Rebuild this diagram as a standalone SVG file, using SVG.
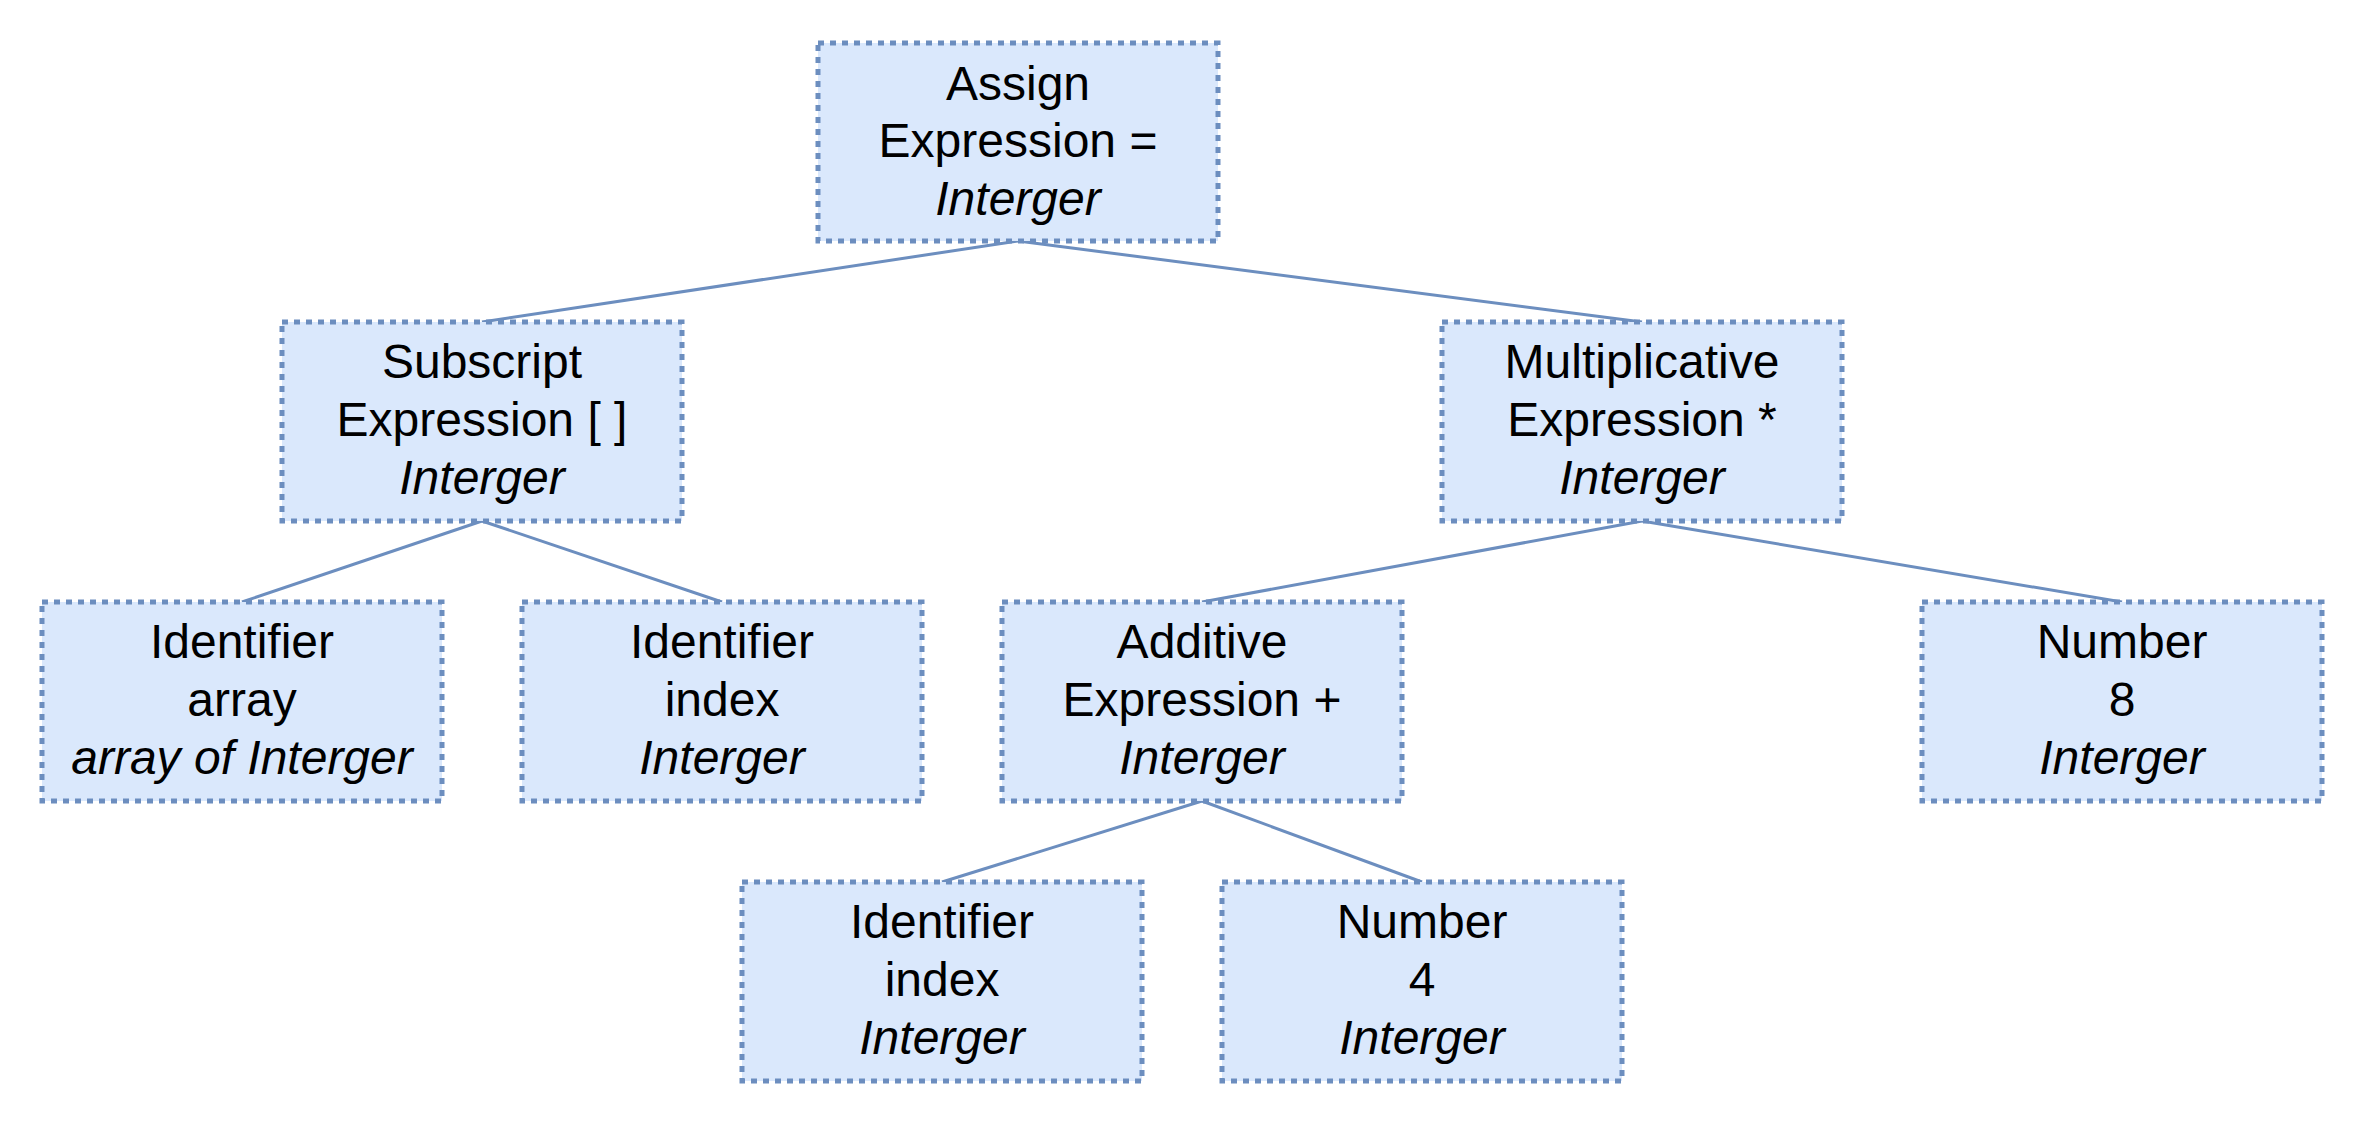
<svg xmlns="http://www.w3.org/2000/svg" width="2368" height="1128" viewBox="0 0 2368 1128">
<style>
.box{fill:#dae8fc;stroke:#6c8ebf;stroke-width:5;stroke-dasharray:6 6}
.edge{stroke:#6c8ebf;stroke-width:3;fill:none}
text{font-family:"Liberation Sans",Arial,sans-serif;font-size:48px;fill:#000;text-anchor:middle}
.it{font-style:italic}
</style>
<rect width="2368" height="1128" fill="#fff"/>
<g id="connectors">
<line class="edge" x1="1018" y1="241" x2="482" y2="322"/>
<line class="edge" x1="1018" y1="241" x2="1642" y2="322"/>
<line class="edge" x1="482" y1="521" x2="242" y2="602"/>
<line class="edge" x1="482" y1="521" x2="722" y2="602"/>
<line class="edge" x1="1642" y1="521" x2="1202" y2="602"/>
<line class="edge" x1="1642" y1="521" x2="2122" y2="602"/>
<line class="edge" x1="1202" y1="801" x2="942" y2="882"/>
<line class="edge" x1="1202" y1="801" x2="1422" y2="882"/>
</g>
<g id="assign">
<rect class="box" x="818" y="43" width="400" height="198"/>
<text x="1018" y="100">Assign</text>
<text x="1018" y="157">Expression =</text>
<text class="it" x="1018" y="215">Interger</text>
</g>
<g id="subscript">
<rect class="box" x="282" y="322" width="400" height="199"/>
<text x="482" y="378">Subscript</text>
<text x="482" y="436">Expression [ ]</text>
<text class="it" x="482" y="494">Interger</text>
</g>
<g id="multiplicative">
<rect class="box" x="1442" y="322" width="400" height="199"/>
<text x="1642" y="378">Multiplicative</text>
<text x="1642" y="436">Expression *</text>
<text class="it" x="1642" y="494">Interger</text>
</g>
<g id="identifier-array">
<rect class="box" x="42" y="602" width="400" height="199"/>
<text x="242" y="658">Identifier</text>
<text x="242" y="716">array</text>
<text class="it" x="242" y="774">array of Interger</text>
</g>
<g id="identifier-index">
<rect class="box" x="522" y="602" width="400" height="199"/>
<text x="722" y="658">Identifier</text>
<text x="722" y="716">index</text>
<text class="it" x="722" y="774">Interger</text>
</g>
<g id="additive">
<rect class="box" x="1002" y="602" width="400" height="199"/>
<text x="1202" y="658">Additive</text>
<text x="1202" y="716">Expression +</text>
<text class="it" x="1202" y="774">Interger</text>
</g>
<g id="number-8">
<rect class="box" x="1922" y="602" width="400" height="199"/>
<text x="2122" y="658">Number</text>
<text x="2122" y="716">8</text>
<text class="it" x="2122" y="774">Interger</text>
</g>
<g id="identifier-index-2">
<rect class="box" x="742" y="882" width="400" height="199"/>
<text x="942" y="938">Identifier</text>
<text x="942" y="996">index</text>
<text class="it" x="942" y="1054">Interger</text>
</g>
<g id="number-4">
<rect class="box" x="1222" y="882" width="400" height="199"/>
<text x="1422" y="938">Number</text>
<text x="1422" y="996">4</text>
<text class="it" x="1422" y="1054">Interger</text>
</g>
</svg>
